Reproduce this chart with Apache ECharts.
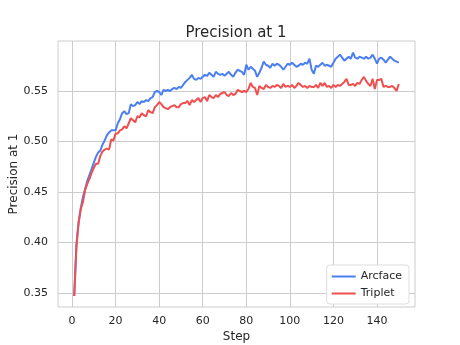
<!DOCTYPE html>
<html>
<head>
<meta charset="utf-8">
<script src="https://cdn.jsdelivr.net/npm/echarts@6/dist/echarts.min.js"></script>
<style>html,body{margin:0;padding:0;background:#fff;}#c{width:460px;height:345px;}</style>
</head>
<body>
<div id="c"></div>
<script>
const seriesNames = ['Arcface', 'Triplet'];
const xTicks = [0, 20, 40, 60, 80, 100, 120, 140];
const yTicks = [0.35, 0.40, 0.45, 0.50, 0.55];
const arcface = [
0.347,0.398,0.420,0.434,0.445,0.453,0.461,0.467,0.473,0.479,
0.485,0.489,0.491,0.497,0.501,0.506,0.509,0.511,0.511,0.511,
0.518,0.522,0.528,0.530,0.527,0.528,0.537,0.535,0.536,0.539,
0.537,0.540,0.539,0.541,0.540,0.543,0.544,0.549,0.550,0.549,
0.546,0.551,0.550,0.551,0.550,0.552,0.553,0.552,0.554,0.553,
0.556,0.559,0.561,0.563,0.566,0.562,0.561,0.563,0.562,0.564,
0.566,0.565,0.568,0.566,0.564,0.569,0.567,0.566,0.567,0.565,
0.567,0.569,0.566,0.564,0.568,0.571,0.570,0.569,0.566,0.576,
0.571,0.574,0.572,0.570,0.564,0.568,0.573,0.579,0.576,0.575,
0.573,0.577,0.575,0.577,0.576,0.574,0.571,0.574,0.577,0.576,
0.578,0.576,0.574,0.575,0.577,0.576,0.578,0.577,0.582,0.571,
0.567,0.575,0.574,0.576,0.578,0.575,0.576,0.575,0.574,0.578,
0.582,0.584,0.586,0.583,0.580,0.582,0.584,0.582,0.588,0.583,
0.582,0.584,0.583,0.582,0.584,0.582,0.583,0.586,0.582,0.577,
0.582,0.583,0.581,0.578,0.581,0.584,0.582,0.580,0.579,0.578];
const triplet = [
0.347,0.395,0.419,0.433,0.440,0.452,0.458,0.463,0.469,0.474,
0.478,0.478,0.486,0.490,0.492,0.493,0.492,0.502,0.501,0.508,
0.508,0.511,0.512,0.515,0.513,0.518,0.523,0.521,0.519,0.525,
0.524,0.528,0.526,0.525,0.531,0.529,0.528,0.534,0.536,0.539,
0.537,0.534,0.533,0.532,0.534,0.535,0.536,0.534,0.534,0.537,
0.538,0.538,0.540,0.536,0.541,0.539,0.541,0.543,0.539,0.543,
0.544,0.540,0.546,0.544,0.543,0.546,0.544,0.547,0.548,0.549,
0.546,0.545,0.548,0.546,0.547,0.551,0.550,0.549,0.550,0.549,
0.552,0.558,0.554,0.553,0.546,0.555,0.553,0.552,0.556,0.554,
0.553,0.555,0.554,0.556,0.555,0.553,0.557,0.554,0.555,0.554,
0.556,0.553,0.555,0.558,0.556,0.554,0.555,0.553,0.555,0.554,
0.554,0.556,0.553,0.558,0.555,0.558,0.554,0.555,0.553,0.556,
0.554,0.556,0.555,0.557,0.559,0.562,0.556,0.556,0.557,0.555,
0.558,0.557,0.561,0.564,0.560,0.557,0.555,0.562,0.552,0.561,
0.561,0.562,0.554,0.555,0.554,0.554,0.555,0.553,0.550,0.557];
const steps = arcface.map((_, i) => i + 1);

const FONT = 'DejaVu Sans';
const chart = echarts.init(document.getElementById('c'), null, {renderer: 'canvas'});
const mk = arr => arr.map((v, i) => [steps[i], v]);
chart.setOption({
  animation: false,
  backgroundColor: '#fff',
  title: {
    text: 'Precision at 1',
    left: 231, top: 21, textAlign: 'center',
    textStyle: {fontFamily: FONT, fontSize: 15, fontWeight: 'normal', color: '#262626'}
  },
  grid: {left: 58, right: 45, top: 41, bottom: 38, show: true, borderColor: '#cccccc', borderWidth: 1,
    containLabel: false, outerBoundsMode: 'none'},
  legend: {
    orient: 'vertical', right: 51, bottom: 41,
    backgroundColor: '#fff', borderColor: '#dddddd', borderWidth: 1, borderRadius: 3,
    padding: [6, 7, 5, 5], itemGap: 6, itemWidth: 24, itemHeight: 10,
    icon: 'path://M0,4 L24,4 L24,6 L0,6 Z',
    textStyle: {fontFamily: FONT, fontSize: 11, color: '#262626'},
    data: seriesNames
  },
  xAxis: {
    type: 'value', min: -6.45, max: 157.45,
    name: 'Step', nameLocation: 'middle', nameGap: 24, nameMoveOverlap: false,
    nameTextStyle: {fontFamily: FONT, fontSize: 12, color: '#262626'},
    axisLine: {show: false}, axisTick: {show: false, customValues: xTicks},
    axisLabel: {customValues: xTicks, fontFamily: FONT, fontSize: 11, color: '#262626', margin: 9},
    splitLine: {show: true, lineStyle: {color: '#cccccc', width: 1}}
  },
  yAxis: {
    type: 'value', min: 0.3361, max: 0.5995,
    name: 'Precision at 1', nameLocation: 'middle', nameGap: 38, nameMoveOverlap: false,
    nameTextStyle: {fontFamily: FONT, fontSize: 12, color: '#262626'},
    axisLine: {show: false}, axisTick: {show: false, customValues: yTicks},
    axisLabel: {customValues: yTicks, fontFamily: FONT, fontSize: 11, color: '#262626', margin: 10,
      formatter: v => v.toFixed(2)},
    splitLine: {show: true, lineStyle: {color: '#cccccc', width: 1}}
  },
  series: [
    {name: seriesNames[0], type: 'line', data: mk(arcface), showSymbol: false, symbol: 'none',
     lineStyle: {color: '#4b7ff0', width: 2}, itemStyle: {color: '#4b7ff0'}},
    {name: seriesNames[1], type: 'line', data: mk(triplet), showSymbol: false, symbol: 'none',
     lineStyle: {color: '#f04f4f', width: 2}, itemStyle: {color: '#f04f4f'}}
  ]
});
</script>
</body>
</html>
